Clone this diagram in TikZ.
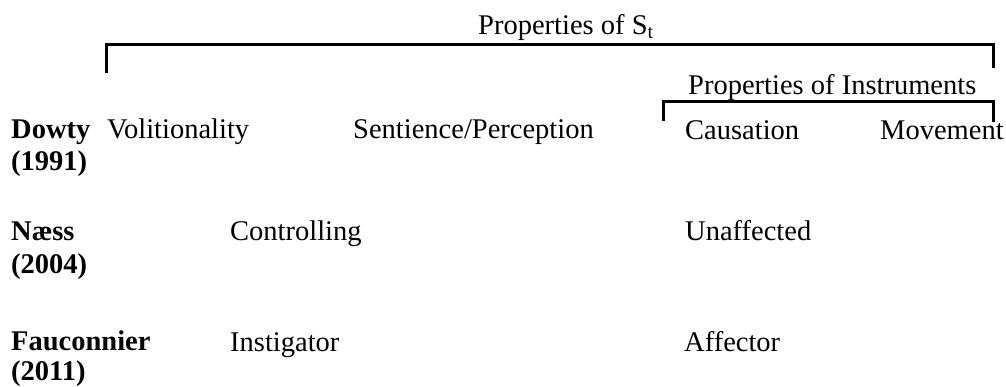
\documentclass[tikz,border=0pt]{standalone}
\usepackage{fontspec}
\setmainfont{Liberation Serif}
\tikzset{
  lbl/.style={anchor=base west,inner sep=0pt,font=\fontsize{28.5}{32}\selectfont},
  src/.style={lbl,font=\fontsize{28.5}{32}\selectfont\bfseries},
  brk/.style={line width=3pt}
}
\begin{document}
\begin{tikzpicture}[x=1pt,y=-1pt]
\useasboundingbox (0,0) rectangle (1006,387);
   \node[lbl] at (478,35)  (St) {Properties of S\textsubscript{t}};
   \node[lbl] at (688,95)  (Ins) {Properties of Instruments};

   \node[src] at (11,139)  (Dowty) {Dowty};
   \node[src] at (11,171)  (D91) {(1991)};
   \node[src] at (11,241)  (Naess) {Næss};
   \node[src] at (11,273)  (N04) {(2004)};
   \node[src] at (11,350)  (Fauc) {Fauconnier};
   \node[src] at (11,380)  (F11) {(2011)};

   \node[lbl] at (107,139) (Vol) {Volitionality};
   \node[lbl] at (353,139) (Sent) {Sentience/Perception};
   \node[lbl] at (685,140) (Caus) {Causation};
   \node[lbl] at (880,140) (Mov) {Movement};
   \node[lbl] at (230,241) (Ctrl) {Controlling};
   \node[lbl] at (685,241) (Unaff) {Unaffected};
   \node[lbl] at (230,351) (Inst) {Instigator};
   \node[lbl] at (684,351) (Aff) {Affector};

   \coordinate (stL) at (106,73);
   \coordinate (stR) at (993,68);
   \coordinate (inL) at (663,121);
   \coordinate (inR) at (993,122);

    \draw[brk] (stL) |- (993,45) -- (stR);
    \draw[brk] (inL) |- (993,102) -- (inR);

    \end{tikzpicture}
\end{document}
